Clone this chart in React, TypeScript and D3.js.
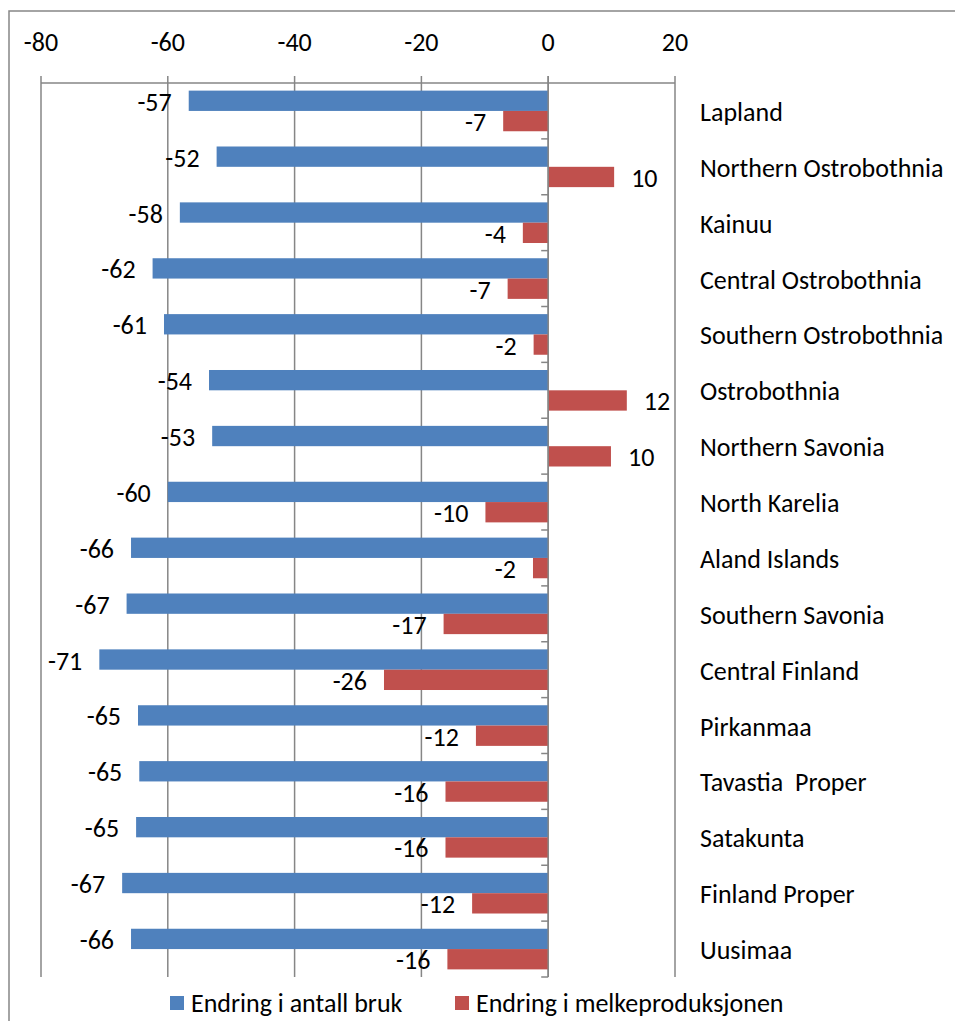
import React from "react";
import * as d3 from "d3";

const regions = [
  "Lapland",
  "Northern Ostrobothnia",
  "Kainuu",
  "Central Ostrobothnia",
  "Southern Ostrobothnia",
  "Ostrobothnia",
  "Northern Savonia",
  "North Karelia",
  "Aland Islands",
  "Southern Savonia",
  "Central Finland",
  "Pirkanmaa",
  "Tavastia  Proper",
  "Satakunta",
  "Finland Proper",
  "Uusimaa",
];
const farms = [-56.7, -52.3, -58.1, -62.4, -60.6, -53.5, -53.0, -60.0, -65.8, -66.5, -70.8, -64.7, -64.5, -65.0, -67.2, -65.8];
const farmLabels = ["-57", "-52", "-58", "-62", "-61", "-54", "-53", "-60", "-66", "-67", "-71", "-65", "-65", "-65", "-67", "-66"];
const milk = [-7.1, 10.4, -4.0, -6.4, -2.3, 12.4, 9.9, -9.9, -2.4, -16.5, -25.9, -11.4, -16.2, -16.2, -12.0, -15.9];
const milkLabels = ["-7", "10", "-4", "-7", "-2", "12", "10", "-10", "-2", "-17", "-26", "-12", "-16", "-16", "-12", "-16"];
const xTicks = [-80, -60, -40, -20, 0, 20];
const seriesNames = ["Endring i antall bruk", "Endring i melkeproduksjonen"];
const seriesColors = ["#4F81BD", "#C0504D"];

const W = 955;
const H = 1021;
const FONT = "Carlito, Calibri, Lato, sans-serif";
const FS = 26;

export default function App() {
  const x = d3.scaleLinear().domain([-80, 20]).range([41, 675]);
  const p = 0.75 / 2.75;
  const y = d3
    .scaleBand<string>()
    .domain(regions)
    .range([83, 977])
    .paddingInner(p)
    .paddingOuter(p / 2);
  const sub = d3
    .scaleBand<number>()
    .domain([0, 1])
    .range([0, y.bandwidth()]);
  const step = y.step();
  const gridColor = "#868686";
  const x0 = x(0);
  const series = [
    { vals: farms, labels: farmLabels },
    { vals: milk, labels: milkLabels },
  ];
  const gap = 17;

  return (
    <svg
      width={W}
      height={H}
      style={{ position: "absolute", left: 0, top: 0, display: "block" }}
      fontFamily={FONT}
    >
      <rect x={0} y={0} width={W} height={H} fill="#fff" />
      <rect x={9} y={11} width={W + 20} height={H + 20} fill="none" stroke={gridColor} strokeWidth={1.5} />
      {/* gridlines */}
      {xTicks.map((t) => (
        <line key={"g" + t} x1={x(t)} x2={x(t)} y1={76} y2={977} stroke={gridColor} strokeWidth={1.5} />
      ))}
      <line x1={x(-80)} x2={x(20)} y1={83} y2={83} stroke={gridColor} strokeWidth={1.5} />
      {xTicks.map((t) => (
        <text key={"t" + t} x={x(t)} y={51} textAnchor="middle" fontSize={FS} fill="#000">
          {t}
        </text>
      ))}
      {/* bars */}
      {series.map((s, si) =>
        regions.map((r, i) => {
          const v = s.vals[i];
          const yy = (y(r) as number) + (sub(si) as number);
          const bx = Math.min(x(v), x0);
          const bw = Math.abs(x(v) - x0);
          return (
            <rect
              key={"b" + si + "-" + i}
              x={bx}
              y={yy}
              width={bw}
              height={sub.bandwidth()}
              fill={seriesColors[si]}
            />
          );
        })
      )}
      {/* zero axis with category ticks */}
      <line x1={x0} x2={x0} y1={76} y2={977} stroke={gridColor} strokeWidth={1.5} />
      {regions.map((r, i) => (
        <line
          key={"ct" + i}
          x1={x0 - 7}
          x2={x0}
          y1={(y(r) as number) - (step * p) / 2 + step}
          y2={(y(r) as number) - (step * p) / 2 + step}
          stroke={gridColor}
          strokeWidth={1.5}
        />
      ))}
      {/* data labels */}
      {series.map((s, si) =>
        regions.map((r, i) => {
          const v = s.vals[i];
          const cy = (y(r) as number) + (sub(si) as number) + sub.bandwidth() / 2 + 1;
          const neg = v < 0;
          return (
            <text
              key={"l" + si + "-" + i}
              x={neg ? x(v) - gap : x(v) + gap}
              y={cy}
              dominantBaseline="central"
              textAnchor={neg ? "end" : "start"}
              fontSize={FS}
              fill="#000"
            >
              {s.labels[i]}
            </text>
          );
        })
      )}
      {/* category labels */}
      {regions.map((r) => (
        <text
          key={"c" + r}
          x={700}
          y={(y(r) as number) + y.bandwidth() / 2 + 1}
          dominantBaseline="central"
          fontSize={FS}
          fill="#000"
          style={{ whiteSpace: "pre" }}
        >
          {r}
        </text>
      ))}
      {/* legend */}
      {seriesNames.map((n, i) => {
        const lx = i === 0 ? 170 : 455;
        return (
          <g key={"lg" + i}>
            <rect x={lx} y={996} width={14} height={14} fill={seriesColors[i]} />
            <text x={lx + 21} y={1012} fontSize={FS} fill="#000">
              {n}
            </text>
          </g>
        );
      })}
    </svg>
  );
}
